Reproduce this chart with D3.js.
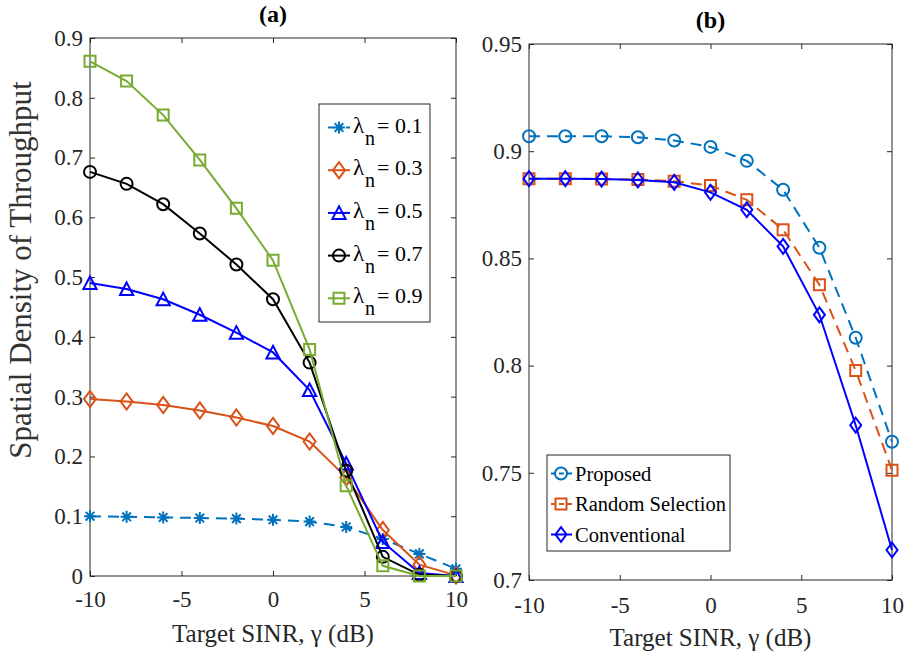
<!DOCTYPE html>
<html>
<head>
<meta charset="utf-8">
<script src="https://cdn.jsdelivr.net/npm/d3@7"></script>
<style>
  body { margin: 0; background: #fff; }
  svg { display: block; }
  svg text { font-family: 'Liberation Serif', 'Times New Roman', serif; }
  .tick text { font-size: 23px; fill: #262626; }
  .tick line { stroke: #262626; }
</style>
</head>
<body>
<div id="chart"></div>
<script>
const sinrDb = [-10, -8, -6, -4, -2, 0, 2, 4, 6, 8, 10];
const xTicks = [-10, -5, 0, 5, 10];

// panel (a)
const densityLabels = ['0.1', '0.3', '0.5', '0.7', '0.9'];
const throughputLambda01 = [0.100, 0.099, 0.098, 0.097, 0.096, 0.094, 0.091, 0.082, 0.062, 0.037, 0.012];
const throughputLambda03 = [0.296, 0.292, 0.286, 0.277, 0.265, 0.251, 0.225, 0.165, 0.077, 0.019, 0.001];
const throughputLambda05 = [0.490, 0.480, 0.463, 0.437, 0.407, 0.374, 0.311, 0.188, 0.057, 0.005, 0.000];
const throughputLambda07 = [0.676, 0.656, 0.622, 0.573, 0.521, 0.463, 0.357, 0.176, 0.032, 0.002, 0.000];
const throughputLambda09 = [0.861, 0.828, 0.771, 0.696, 0.615, 0.528, 0.379, 0.151, 0.017, 0.000, 0.000];
const leftYTicks = [0, 0.1, 0.2, 0.3, 0.4, 0.5, 0.6, 0.7, 0.8, 0.9];

// panel (b)
const schemeNames = ['Proposed', 'Random Selection', 'Conventional'];
const proposedValues = [0.907, 0.907, 0.907, 0.9065, 0.905, 0.902, 0.8955, 0.882, 0.855, 0.813, 0.7645];
const randomSelectionValues = [0.8872, 0.8872, 0.887, 0.8868, 0.886, 0.884, 0.8773, 0.8634, 0.8377, 0.7977, 0.7512];
const conventionalValues = [0.8872, 0.8872, 0.887, 0.8866, 0.8855, 0.8808, 0.8727, 0.8556, 0.8237, 0.7722, 0.714];
const rightYTicks = [0.7, 0.75, 0.8, 0.85, 0.9, 0.95];

const WIDTH = 904;
const HEIGHT = 657;
const axisColor = '#262626';

const markerPath = (shape, size) => {
  const s = size;
  switch (shape) {
    case 'star': {
      const a = s * 0.72;
      return `M${-s},0H${s}M0,${-s}V${s}M${-a},${-a}L${a},${a}M${-a},${a}L${a},${-a}`;
    }
    case 'diamond':
      return `M0,${-s * 1.35}L${s},0L0,${s * 1.35}L${-s},0Z`;
    case 'triangle':
      return `M0,${-s * 1.1}L${s * 1.1},${s}L${-s * 1.1},${s}Z`;
    case 'square':
      return `M${-s},${-s}H${s}V${s}H${-s}Z`;
    default:
      return d3.arc()({ innerRadius: 0, outerRadius: s, startAngle: 0, endAngle: 2 * Math.PI });
  }
};

const drawMarker = (g, shape, size, color) =>
  g
    .append('path')
    .attr('d', markerPath(shape, size))
    .attr('fill', 'none')
    .attr('stroke', color)
    .attr('stroke-width', 2);

const svg = d3.create('svg').attr('width', WIDTH).attr('height', HEIGHT);
svg.append('rect').attr('width', WIDTH).attr('height', HEIGHT).attr('fill', '#fff');

const drawPanel = (panel) => {
  const { left, right, top, bottom, yDomain, yTicks, yFormat, series } = panel;

  const x = d3.scaleLinear().domain([-10, 10]).range([left, right]);
  const y = d3.scaleLinear().domain(yDomain).range([bottom, top]);
  const g = svg.append('g');

  g.append('g')
    .attr('transform', `translate(0,${bottom})`)
    .call(d3.axisBottom(x).tickValues(xTicks).tickSizeInner(-5).tickSizeOuter(0)
      .tickPadding(panel.xPad).tickFormat((d) => String(d)))
    .call((a) => a.select('.domain').remove());
  g.append('g')
    .attr('transform', `translate(0,${top})`)
    .call(d3.axisTop(x).tickValues(xTicks).tickSizeInner(-5).tickSizeOuter(0).tickFormat(''))
    .call((a) => a.select('.domain').remove());
  g.append('g')
    .attr('transform', `translate(${left},0)`)
    .call(d3.axisLeft(y).tickValues(yTicks).tickSizeInner(-5).tickSizeOuter(0).tickPadding(7).tickFormat(yFormat))
    .call((a) => a.select('.domain').remove());
  g.append('g')
    .attr('transform', `translate(${right},0)`)
    .call(d3.axisRight(y).tickValues(yTicks).tickSizeInner(-5).tickSizeOuter(0).tickFormat(''))
    .call((a) => a.select('.domain').remove());

  g.append('rect')
    .attr('x', left)
    .attr('y', top)
    .attr('width', right - left)
    .attr('height', bottom - top)
    .attr('fill', 'none')
    .attr('stroke', axisColor)
    .attr('stroke-width', 1);

  const line = d3
    .line()
    .x((d, i) => x(sinrDb[i]))
    .y((d) => y(d));

  series.forEach((s) => {
    g.append('path')
      .attr('d', line(s.values))
      .attr('fill', 'none')
      .attr('stroke', s.color)
      .attr('stroke-width', 2)
      .attr('stroke-dasharray', s.dashed ? '11,7' : null);

    g.selectAll(null)
      .data(s.values)
      .join('g')
      .attr('transform', (d, i) => `translate(${x(sinrDb[i])},${y(d)})`)
      .each(function () {
        drawMarker(d3.select(this), s.shape, s.size, s.color);
      });
  });

  svg.append('text')
    .attr('x', (left + right) / 2)
    .attr('y', top - 16)
    .attr('text-anchor', 'middle')
    .attr('font-size', 24)
    .attr('font-weight', 'bold')
    .attr('fill', '#000')
    .text(panel.title);

  svg.append('text')
    .attr('x', (left + right) / 2)
    .attr('y', bottom + 66)
    .attr('text-anchor', 'middle')
    .attr('font-size', 25)
    .attr('fill', axisColor)
    .text('Target SINR, γ (dB)');

  return { x, y };
};

const leftSeries = [
  { values: throughputLambda01, color: '#0072BD', shape: 'star', size: 6, dashed: true },
  { values: throughputLambda03, color: '#D95319', shape: 'diamond', size: 6, dashed: false },
  { values: throughputLambda05, color: '#0000FF', shape: 'triangle', size: 6, dashed: false },
  { values: throughputLambda07, color: '#000000', shape: 'circle', size: 6, dashed: false },
  { values: throughputLambda09, color: '#77AC30', shape: 'square', size: 5.5, dashed: false },
];

const rightSeries = [
  { values: proposedValues, color: '#0072BD', shape: 'circle', size: 6, dashed: true },
  { values: randomSelectionValues, color: '#D95319', shape: 'square', size: 5.5, dashed: true },
  { values: conventionalValues, color: '#0000FF', shape: 'diamond', size: 5.5, dashed: false },
];

drawPanel({
  title: '(a)',
  left: 90, right: 456, top: 38, bottom: 576,
  xPad: 15,
  yDomain: [0, 0.9],
  yTicks: leftYTicks,
  yFormat: (d) => (d === 0 ? '0' : d3.format('.1f')(d)),
  series: leftSeries,
});

drawPanel({
  title: '(b)',
  left: 529, right: 892, top: 44, bottom: 580,
  xPad: 17,
  yDomain: [0.7, 0.95],
  yTicks: rightYTicks,
  yFormat: (d) => String(+d.toFixed(2)),
  series: rightSeries,
});

// y label, panel (a)
svg.append('text')
  .attr('transform', 'translate(31,270) rotate(-90)')
  .attr('text-anchor', 'middle')
  .attr('font-size', 31)
  .attr('fill', '#333')
  .text('Spatial Density of Throughput');

// legend (a)
const legendA = svg.append('g');
legendA.append('rect')
  .attr('x', 319).attr('y', 104).attr('width', 111).attr('height', 218)
  .attr('fill', '#fff').attr('stroke', axisColor).attr('stroke-width', 1);

leftSeries.forEach((s, i) => {
  const row = legendA.append('g').attr('transform', `translate(0,${127.5 + i * 42.7})`);
  row.append('line')
    .attr('x1', 328).attr('x2', 350)
    .attr('stroke', s.color).attr('stroke-width', 2)
    .attr('stroke-dasharray', s.dashed ? '6,3' : null);
  drawMarker(row.append('g').attr('transform', 'translate(339,0)'), s.shape, s.size, s.color);
  row.append('text').attr('x', 353).attr('y', 5).attr('font-size', 23).attr('fill', '#000').text('λ');
  row.append('text').attr('x', 365).attr('y', 17).attr('font-size', 20).attr('fill', '#000').text('n');
  row.append('text').attr('x', 377).attr('y', 5).attr('font-size', 22).attr('fill', '#000')
    .text(`= ${densityLabels[i]}`);
});

// legend (b)
const legendB = svg.append('g');
legendB.append('rect')
  .attr('x', 547).attr('y', 455).attr('width', 183).attr('height', 96)
  .attr('fill', '#fff').attr('stroke', axisColor).attr('stroke-width', 1);

rightSeries.forEach((s, i) => {
  const row = legendB.append('g').attr('transform', `translate(0,${473.5 + i * 30.5})`);
  row.append('line')
    .attr('x1', 551).attr('x2', 572)
    .attr('stroke', s.color).attr('stroke-width', 2)
    .attr('stroke-dasharray', s.dashed ? '5,3' : null);
  drawMarker(row.append('g').attr('transform', 'translate(561,0)'), s.shape, s.size, s.color);
  row.append('text').attr('x', 575).attr('y', 7).attr('font-size', 20.5).attr('fill', '#000')
    .text(schemeNames[i]);
});

document.getElementById('chart').appendChild(svg.node());
</script>
</body>
</html>
